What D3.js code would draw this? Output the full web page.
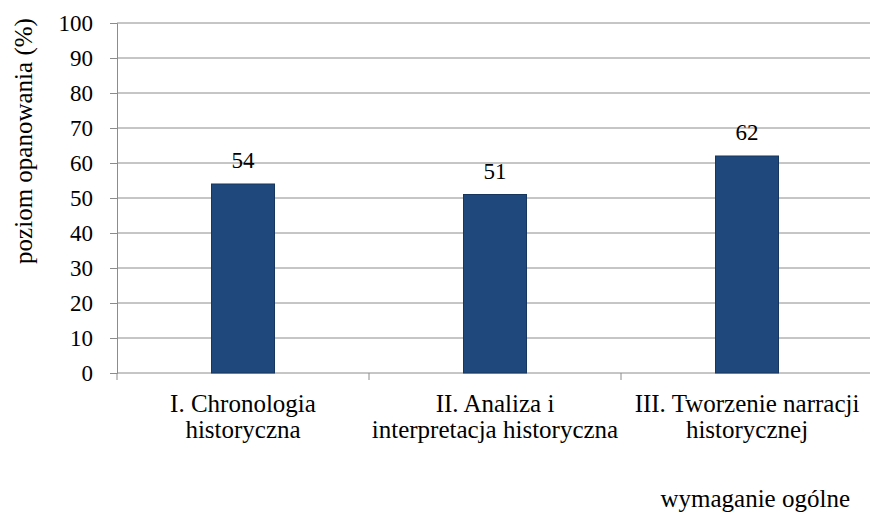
<!DOCTYPE html>
<html>
<head>
<meta charset="utf-8">
<script src="https://cdn.jsdelivr.net/npm/d3@7"></script>
<style>
  body { margin: 0; background: #fff; }
</style>
</head>
<body>
<div id="chart"></div>
<script>
var categories = [
  ["I. Chronologia", "historyczna"],
  ["II. Analiza i", "interpretacja historyczna"],
  ["III. Tworzenie narracji", "historycznej"]
];
var values = [54, 51, 62];
var yTicks = [0, 10, 20, 30, 40, 50, 60, 70, 80, 90, 100];

var width = 870, height = 518;
var margin = { left: 117, right: -3, top: 23, bottom: 145 };
var numSize = 23, labelSize = 25;
var serif = "'Liberation Serif', 'Times New Roman', 'DejaVu Serif', serif";

var svg = d3.select("#chart").append("svg")
  .attr("width", width)
  .attr("height", height)
  .attr("font-family", serif);

var x = d3.scaleBand()
  .domain(d3.range(categories.length))
  .range([margin.left, width - margin.right])
  .paddingInner(0)
  .paddingOuter(0);

var y = d3.scaleLinear()
  .domain([0, 100])
  .range([height - margin.bottom, margin.top]);

// gridlines
svg.append("g")
  .selectAll("line")
  .data(yTicks.filter(function(d) { return d > 0; }))
  .enter().append("line")
  .attr("x1", margin.left)
  .attr("x2", width)
  .attr("y1", function(d) { return y(d); })
  .attr("y2", function(d) { return y(d); })
  .attr("stroke", "#8c8c8c")
  .attr("stroke-width", 1);

// y axis
var yAxis = svg.append("g")
  .attr("transform", "translate(" + margin.left + ",0)")
  .call(d3.axisLeft(y).tickValues(yTicks).tickSize(7).tickPadding(17));
yAxis.attr("font-family", serif).attr("font-size", numSize);
yAxis.select(".domain").attr("stroke", "#8c8c8c");
yAxis.selectAll(".tick line").attr("stroke", "#8c8c8c");
yAxis.selectAll(".tick text").attr("fill", "#000");

// x axis
var xAxisG = svg.append("g")
  .attr("transform", "translate(0," + y(0) + ")");
xAxisG.append("line")
  .attr("x1", margin.left).attr("x2", width)
  .attr("stroke", "#8c8c8c");
xAxisG.selectAll("line.tk")
  .data(d3.range(categories.length))
  .enter().append("line")
  .attr("class", "tk")
  .attr("x1", function(d) { return x(d); })
  .attr("x2", function(d) { return x(d); })
  .attr("y1", 0).attr("y2", 7)
  .attr("stroke", "#8c8c8c");

// bars
var barW = 63;
svg.append("g")
  .selectAll("rect")
  .data(values)
  .enter().append("rect")
  .attr("x", function(d, i) { return x(i) + x.bandwidth() / 2 - barW / 2; })
  .attr("y", function(d) { return y(d); })
  .attr("width", barW)
  .attr("height", function(d) { return y(0) - y(d); })
  .attr("fill", "#1f497d")
  .attr("stroke", "#17365d")
  .attr("stroke-width", 1);

// value labels
svg.append("g")
  .selectAll("text")
  .data(values)
  .enter().append("text")
  .attr("x", function(d, i) { return x(i) + x.bandwidth() / 2; })
  .attr("y", function(d) { return y(d) - 16; })
  .attr("text-anchor", "middle")
  .attr("font-size", numSize)
  .text(function(d) { return d; });

// category labels
var cat = svg.append("g")
  .selectAll("text")
  .data(categories)
  .enter().append("text")
  .attr("text-anchor", "middle")
  .attr("transform", function(d, i) {
    return "translate(" + (x(i) + x.bandwidth() / 2) + "," + (y(0) + 39) + ")";
  })
  .attr("font-size", labelSize);
cat.selectAll("tspan")
  .data(function(d) { return d; })
  .enter().append("tspan")
  .attr("x", 0)
  .attr("y", function(d, i) { return i * 26; })
  .text(function(d) { return d; });

// axis titles
svg.append("text")
  .attr("transform", "translate(32,141)rotate(-90)")
  .attr("text-anchor", "middle")
  .attr("font-size", labelSize)
  .text("poziom opanowania (%)");

svg.append("text")
  .attr("x", 850)
  .attr("y", 507)
  .attr("text-anchor", "end")
  .attr("font-size", labelSize)
  .text("wymaganie ogólne");
</script>
</body>
</html>
